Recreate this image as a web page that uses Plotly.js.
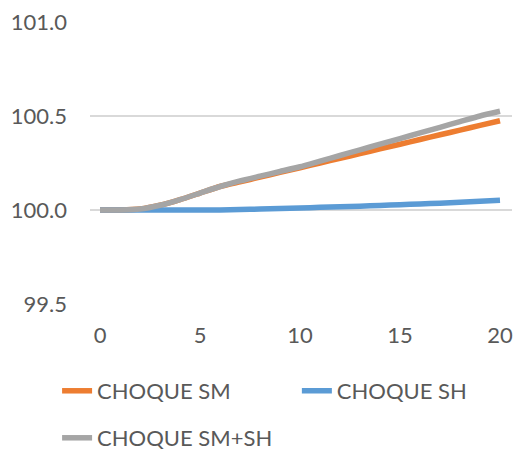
<!DOCTYPE html>
<html>
<head>
<meta charset="utf-8">
<script src="https://cdn.plot.ly/plotly-3.0.1.min.js"></script>
<style>html,body{margin:0;padding:0;background:#fff;}#chart{width:519px;height:452px;}</style>
</head>
<body>
<div id="chart"></div>
<script>
const periods = [0,1,2,3,4,5,6,7,8,9,10,11,12,13,14,15,16,17,18,19,20];
const choqueSM = [100.0,100.0,100.005,100.025,100.055,100.09,100.125,100.15,100.175,100.2,100.225,100.25,100.275,100.3,100.325,100.35,100.375,100.4,100.425,100.45,100.475];
const choqueSH = [100.0,100.0,100.0,100.0,100.0,100.0,100.0,100.002,100.005,100.008,100.011,100.014,100.017,100.02,100.024,100.028,100.032,100.036,100.041,100.046,100.052];
const choqueSMSH = [100.0,100.0,100.005,100.025,100.055,100.09,100.125,100.155,100.18,100.205,100.23,100.26,100.29,100.32,100.35,100.38,100.41,100.44,100.47,100.50,100.525];
const names = ["CHOQUE SM","CHOQUE SH","CHOQUE SM+SH"];
const yTicks = [99.5,100.0,100.5,101.0];
const xTicks = [0,5,10,15,20];

const FONT = "Lato, 'Open Sans', sans-serif";
const TXT = "#595959";

const traces = [
  {x: periods, y: choqueSM, name: names[0], mode: "lines", line: {color: "#ED7D31", width: 5.5, shape: "spline", smoothing: 0.5}, legend: "legend"},
  {x: periods, y: choqueSH, name: names[1], mode: "lines", line: {color: "#5B9BD5", width: 5.5, shape: "spline", smoothing: 0.5}, legend: "legend3"},
  {x: periods, y: choqueSMSH, name: names[2], mode: "lines", line: {color: "#A5A5A5", width: 5.5, shape: "spline", smoothing: 0.5}, legend: "legend2"}
];

const legFont = {size: 22, color: TXT, family: FONT};
const legBase = {orientation: "h", xref: "container", yref: "container", xanchor: "left", yanchor: "middle", font: legFont, bgcolor: "rgba(0,0,0,0)"};

const layout = {
  width: 519, height: 452,
  margin: {l: 90, r: 7, t: 22, b: 148},
  paper_bgcolor: "#fff", plot_bgcolor: "#fff",
  font: {family: FONT, color: TXT, size: 22},
  showlegend: true,
  xaxis: {
    range: [-0.5, 20.6], tickvals: xTicks, ticktext: xTicks.map(String), automargin: false,
    showgrid: false, zeroline: false, showline: false, ticks: "",
    ticklabelstandoff: 16, tickfont: {size: 22, color: TXT, family: FONT}
  },
  yaxis: {
    range: [99.5, 101.0], tickvals: yTicks, ticktext: yTicks.map(v => v.toFixed(1)), automargin: false,
    showgrid: true, gridcolor: "#D9D9D9", gridwidth: 1.3, zeroline: false, showline: false, ticks: "",
    ticklabelstandoff: 22, tickfont: {size: 22, color: TXT, family: FONT}
  },
  legend: Object.assign({}, legBase, {x: 0.11, y: 0.135}),
  legend3: Object.assign({}, legBase, {x: 0.572, y: 0.135}),
  legend2: Object.assign({}, legBase, {x: 0.11, y: 0.031})
};
Plotly.newPlot("chart", traces, layout, {displayModeBar: false, staticPlot: true});
</script>
</body>
</html>
